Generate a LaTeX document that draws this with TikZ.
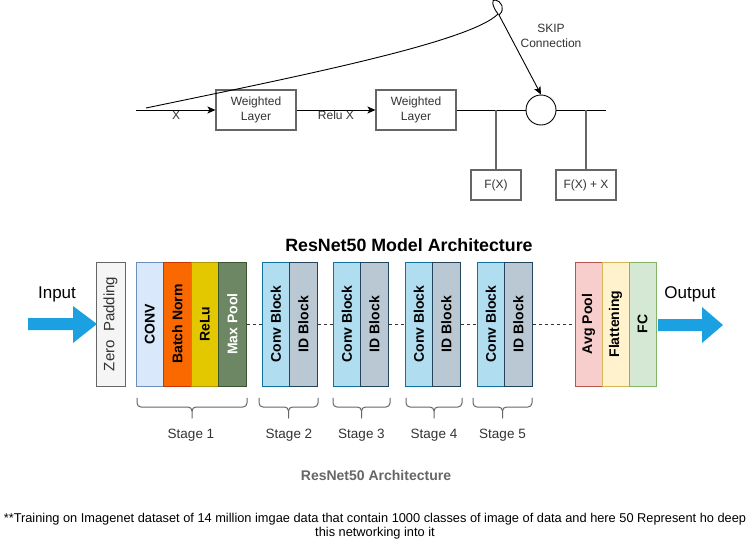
\documentclass[tikz,border=0pt]{standalone}
\usepackage{fontspec}
\setmainfont{Liberation Sans}
\usetikzlibrary{arrows.meta}
\newcommand\fsz[2]{\fontsize{#1}{#2}\selectfont}
\definecolor{edgegray}{HTML}{666666}
\definecolor{txtgray}{HTML}{333333}
\definecolor{capgray}{HTML}{666666}
\definecolor{arrowblue}{HTML}{1BA1E2}
\definecolor{zpfill}{HTML}{F5F5F5}
\definecolor{zpdraw}{HTML}{666666}
\definecolor{convfill}{HTML}{DAE8FC}
\definecolor{convdraw}{HTML}{6C8EBF}
\definecolor{bnfill}{HTML}{FA6800}
\definecolor{bndraw}{HTML}{C73500}
\definecolor{relufill}{HTML}{E3C800}
\definecolor{reludraw}{HTML}{B09500}
\definecolor{mpfill}{HTML}{6D8764}
\definecolor{mpdraw}{HTML}{3A5431}
\definecolor{cbfill}{HTML}{B1DDF0}
\definecolor{cbdraw}{HTML}{10739E}
\definecolor{idfill}{HTML}{BAC8D3}
\definecolor{iddraw}{HTML}{23445D}
\definecolor{apfill}{HTML}{F8CECC}
\definecolor{apdraw}{HTML}{B85450}
\definecolor{flfill}{HTML}{FFF2CC}
\definecolor{fldraw}{HTML}{D6B656}
\definecolor{fcfill}{HTML}{D5E8D4}
\definecolor{fcdraw}{HTML}{82B366}
\newcommand\stagebrace[3]{% x1, xm, x2
  \draw[brc] (#1,398) -- (#1,403) to[out=-90,in=180] (#1+4,407) -- (#2-4,407)
    to[out=0,in=90] (#2,411) -- (#2,418);
  \draw[brc] (#2,411) to[out=90,in=180] (#2+4,407) -- (#3-4,407)
    to[out=0,in=-90] (#3,403) -- (#3,398);
}
\begin{document}
\begin{tikzpicture}[x=1pt,y=-1pt,
  lab/.style={font=\fsz{12pt}{15pt}, text=txtgray, inner sep=0pt},
  wl/.style={draw=edgegray, line width=1.1pt, minimum width=80pt, minimum height=40pt, inner sep=0pt, align=center, font=\fsz{12pt}{15pt}, text=txtgray},
  res/.style={draw=edgegray, line width=1.1pt, minimum width=50pt, minimum height=30pt, inner sep=0pt, font=\fsz{12pt}{15pt}, text=txtgray},
  sumnode/.style={draw=black, circle, line width=0.9pt, minimum size=30pt, inner sep=0pt},
  arr/.style={draw=black, line width=0.9pt, -{Stealth[length=8pt,width=7pt,inset=2pt]}},
  hline/.style={draw=black, line width=0.9pt},
  vline/.style={draw=edgegray, line width=1.4pt},
  blk/.style={draw, rotate=90, line width=1pt, minimum width=124pt, minimum height=27.5pt, inner sep=0pt, font=\bfseries\fsz{14pt}{16pt}},
  dline/.style={draw=txtgray, line width=0.8pt, dash pattern=on 3pt off 3pt},
  brc/.style={draw=edgegray, line width=1pt, line cap=round},
  stg/.style={font=\fsz{13.5pt}{16pt}, text=txtgray, inner sep=0pt},
  big/.style={font=\fsz{17pt}{20pt}, text=black, inner sep=0pt},
  bigarrow/.style={fill=arrowblue}
]
\useasboundingbox (0,0) rectangle (750,541);
\fill[white] (0,0) rectangle (750,541);

% ---------- top: residual block ----------
\coordinate (in) at (136,110);
\coordinate (out) at (606,110);
\coordinate (j1) at (496,110);
\coordinate (j2) at (586,110);
\node[wl] (w1) at (256,110) {Weighted\\Layer};
\node[wl] (w2) at (416,110) {Weighted\\Layer};
\node[sumnode] (s) at (541,110) {};
\node[res] (fx) at (496,185) {F(X)};
\node[res, minimum width=60pt] (fxx) at (586,185) {F(X) + X};
\draw[arr] (in) -- (w1);
\draw[arr] (w1) -- (w2);
\draw[hline] (w2) -- (s);
\draw[hline] (s) -- (out);
\draw[vline] (j1) -- (fx);
\draw[vline] (j2) -- (fxx);
\node[lab, anchor=base] (lx) at (176,119) {X};
\node[lab, anchor=base] (lr) at (336,119) {Relu X};
\coordinate (k0) at (146,108);
\coordinate (k1) at (498,14);
\coordinate (k2) at (499,15);
\draw[arr] (k0) .. controls (300,76) and (470,42) .. (k1)
  .. controls (492,6) and (491,-1) .. (495.5,0)
  .. controls (501,1) and (506,9) .. (k2) -- (s.north);
\node[lab, align=center] (skip) at (551,36) {SKIP\\Connection};

% ---------- bottom: ResNet50 ----------
\node[font=\bfseries\fsz{17.8pt}{20pt}, text=black, inner sep=0pt] (title) at (409,245) {ResNet50 Model Architecture};
\node[big] (intext) at (57,294) {Input};
\node[big] (outtext) at (690,294) {Output};

\node[blk, fill=zpfill, draw=zpdraw, minimum height=29pt, font=\fsz{15pt}{16pt}, text=txtgray] (zp) at (110.5,324) {Zero\ \ Padding};
\node[blk, fill=convfill, draw=convdraw] (cv) at (149.75,324) {CONV};
\node[blk, fill=bnfill, draw=bndraw] (bn) at (177.25,324) {Batch Norm};
\node[blk, fill=relufill, draw=reludraw] (rl) at (204.75,324) {ReLu};
\node[blk, fill=mpfill, draw=mpdraw, text=white] (mp) at (232.25,324) {Max Pool};

\node[blk, fill=cbfill, draw=cbdraw] (c2) at (275.75,324) {Conv Block};
\node[blk, fill=idfill, draw=iddraw] (i2) at (303.25,324) {ID Block};
\node[blk, fill=cbfill, draw=cbdraw] (c3) at (346.75,324) {Conv Block};
\node[blk, fill=idfill, draw=iddraw] (i3) at (374.25,324) {ID Block};
\node[blk, fill=cbfill, draw=cbdraw] (c4) at (418.75,324) {Conv Block};
\node[blk, fill=idfill, draw=iddraw] (i4) at (446.25,324) {ID Block};
\node[blk, fill=cbfill, draw=cbdraw] (c5) at (490.75,324) {Conv Block};
\node[blk, fill=idfill, draw=iddraw] (i5) at (518.25,324) {ID Block};

\node[blk, fill=apfill, draw=apdraw, minimum height=27pt] (ap) at (588.5,324) {Avg Pool};
\node[blk, fill=flfill, draw=fldraw, minimum height=27pt] (fl) at (615.5,324) {Flattening};
\node[blk, fill=fcfill, draw=fcdraw, minimum height=27pt] (fc) at (642.5,324) {FC};

\draw[dline] (mp) -- (c2);
\draw[dline] (i2) -- (c3);
\draw[dline] (i3) -- (c4);
\draw[dline] (i4) -- (c5);
\draw[dline] (i5) -- (ap);

% input / output arrows
\coordinate (ia) at (28,324);
\coordinate (oa) at (658,325);
\fill[bigarrow] (ia) ++(0,-6) -- ++(45,0) -- ++(0,-12) -- ++(24,18) -- ++(-24,19) -- ++(0,-13) -- ++(-45,0) -- cycle;
\fill[bigarrow] (oa) ++(0,-6) -- ++(44,0) -- ++(0,-12) -- ++(21,18) -- ++(-21,18) -- ++(0,-12) -- ++(-44,0) -- cycle;

% braces
\stagebrace{137}{192}{247}
\stagebrace{259}{288.5}{318}
\stagebrace{333}{361.5}{390}
\stagebrace{406}{434}{462}
\stagebrace{473}{502.5}{532}
\node[stg] (s1) at (191,435) {Stage 1};
\node[stg] (s2) at (289,435) {Stage 2};
\node[stg] (s3) at (361.5,435) {Stage 3};
\node[stg] (s4) at (434,435) {Stage 4};
\node[stg] (s5) at (502.5,435) {Stage 5};

\node[font=\bfseries\fsz{14pt}{16pt}, text=capgray, inner sep=0pt] (cap) at (376,475) {ResNet50 Architecture};
\node[font=\fsz{12.8pt}{14.5pt}, text=black, align=center, inner sep=0pt] (foot) at (375,526) {**Training on Imagenet dataset of 14 million imgae data that contain 1000 classes of image of data and here 50 Represent ho deep\\this networking into it};
\end{tikzpicture}
\end{document}
